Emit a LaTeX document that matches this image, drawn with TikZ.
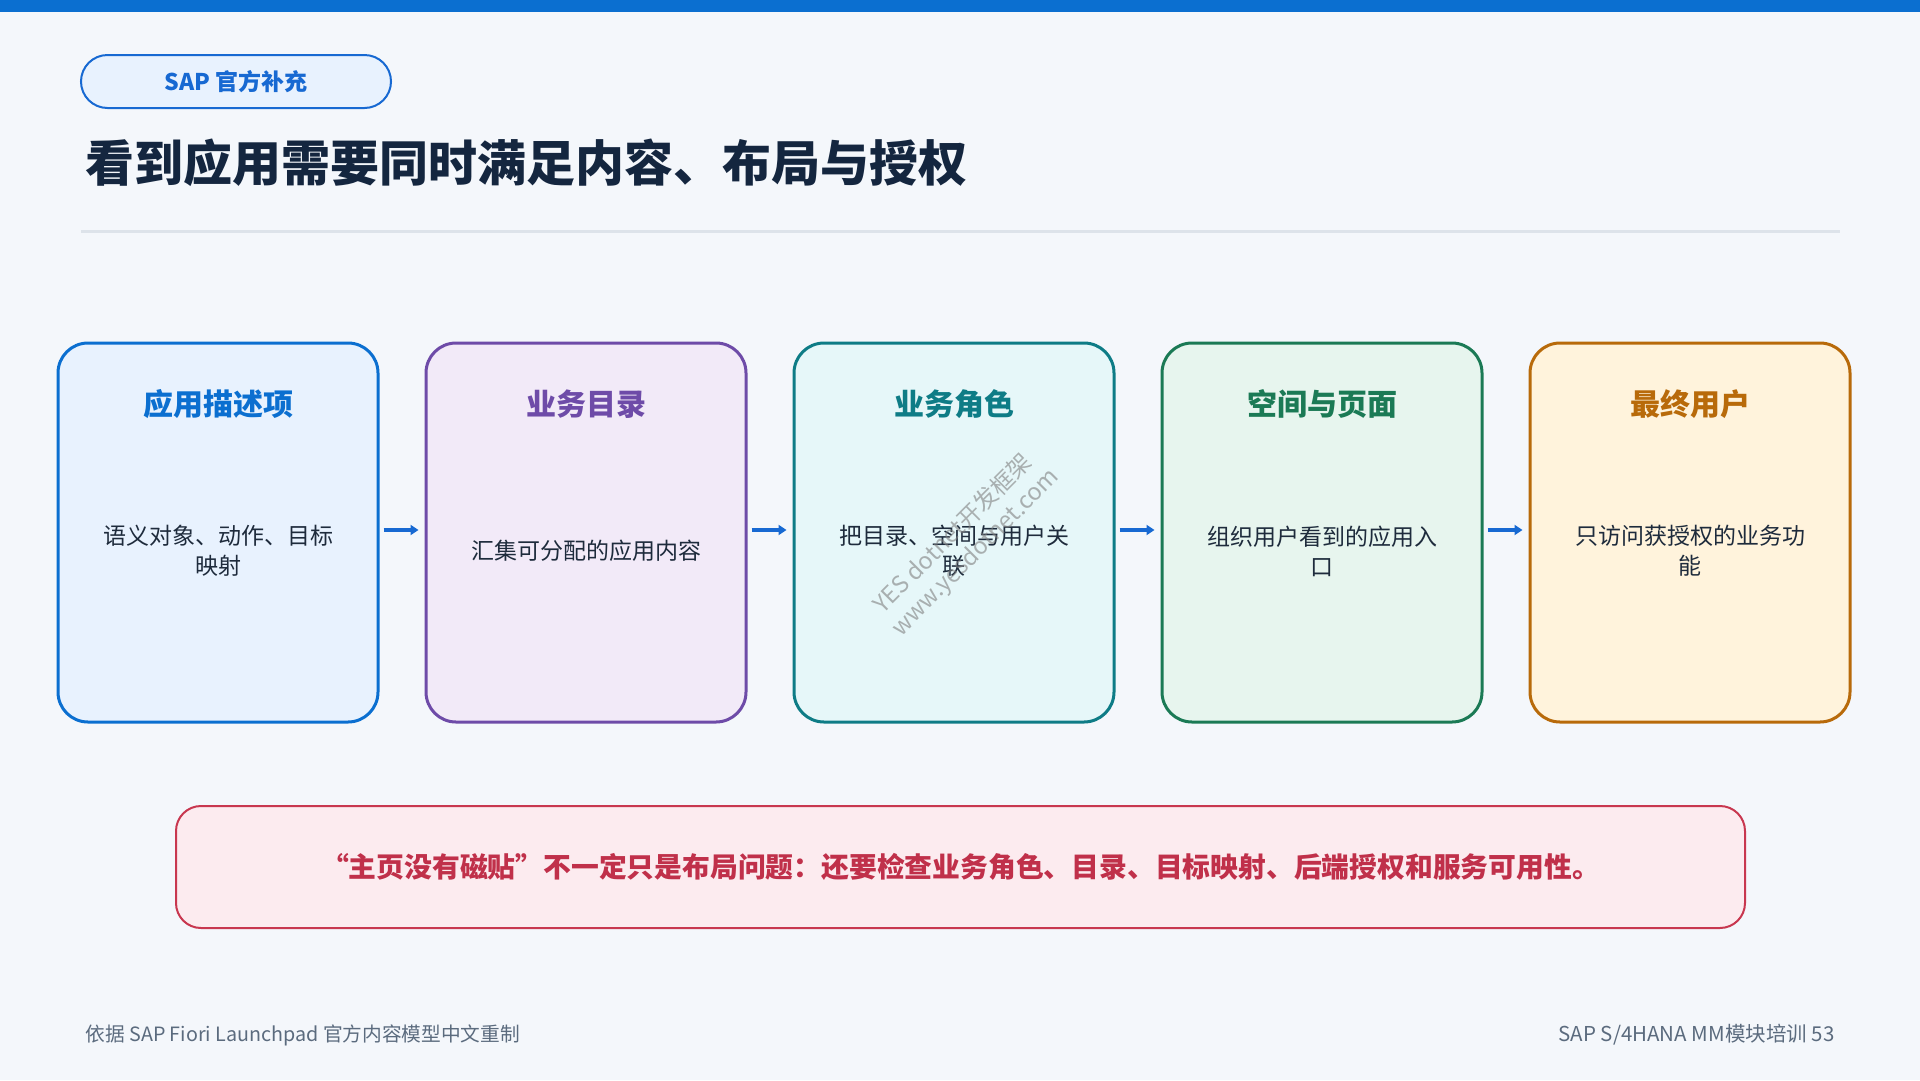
\documentclass[tikz,border=0pt]{standalone}
\usepackage{fontspec}
\setmainfont{Noto Sans CJK SC}
\usetikzlibrary{arrows.meta}
\definecolor{pagebg}{HTML}{F4F7FB}
\definecolor{topbar}{HTML}{0B6FD0}
\definecolor{ink}{HTML}{1E2B3C}
\definecolor{titleink}{HTML}{14263F}
\definecolor{rulegray}{HTML}{DDE3EA}
\definecolor{footgray}{HTML}{5B6B7E}
\definecolor{flowblue}{HTML}{1769D2}
\definecolor{descline}{HTML}{0B6FD0}
\definecolor{descfill}{HTML}{E8F2FE}
\definecolor{catline}{HTML}{6E4BA8}
\definecolor{catfill}{HTML}{F2EAF8}
\definecolor{roleline}{HTML}{0E7C86}
\definecolor{rolefill}{HTML}{E6F7F9}
\definecolor{spaceline}{HTML}{1B7A55}
\definecolor{spacefill}{HTML}{E7F5EE}
\definecolor{userline}{HTML}{B86A0A}
\definecolor{userfill}{HTML}{FFF3DC}
\definecolor{noteline}{HTML}{C8374F}
\definecolor{notefill}{HTML}{FCEBEF}
\definecolor{noteink}{HTML}{C0304A}
\tikzset{
  card/.style={draw=#1, line width=3pt, rounded corners=30pt, minimum width=320pt, minimum height=379pt, inner sep=0pt},
  cardtitle/.style={text=#1, font=\fontsize{30}{36}\selectfont\bfseries},
  cardtext/.style={text=ink, align=center, font=\fontsize{23}{30}\selectfont},
  flow/.style={draw=flowblue, line width=4pt, -{Triangle[length=8pt,width=10pt]}, shorten <=4pt, shorten >=6pt},
  mark text/.style={text=gray, opacity=0.6, rotate=45, font=\fontsize{23.5}{26}\selectfont}
}
\begin{document}
\begin{tikzpicture}[x=1pt,y=-1pt]
    \useasboundingbox (0,0) rectangle (1920,1080);
    \fill[pagebg] (0,0) rectangle (1920,1080);
    \fill[topbar] (0,0) rectangle (1920,12);
    \node[draw=flowblue, line width=2pt, fill=descfill, rounded corners=26.5pt, minimum width=310pt, minimum height=53pt, text=flowblue, font=\fontsize{23}{27}\selectfont\bfseries] (badge) at (236,81.5) {SAP 官方补充};
    \node[anchor=west, text=titleink, font=\fontsize{49}{56}\selectfont\bfseries] (title) at (82,163) {看到应用需要同时满足内容、布局与授权};
    \draw[rulegray, line width=3pt] (81,231) -- (1840,231);

    \node[card=descline, fill=descfill] (desc) at (218,532.5) {};
    \node[card=catline, fill=catfill] (cat) at (586,532.5) {};
    \node[card=roleline, fill=rolefill] (role) at (954,532.5) {};
    \node[card=spaceline, fill=spacefill] (space) at (1322,532.5) {};
    \node[card=userline, fill=userfill] (user) at (1690,532.5) {};

    \node[cardtitle=descline] (desctitle) at (218,404) {应用描述项};
    \node[cardtitle=catline] (cattitle) at (586,404) {业务目录};
    \node[cardtitle=roleline] (roletitle) at (954,404) {业务角色};
    \node[cardtitle=spaceline] (spacetitle) at (1322,404) {空间与页面};
    \node[cardtitle=userline] (usertitle) at (1690,404) {最终用户};

    \node[cardtext] (desctext) at (218,551) {语义对象、动作、目标\\映射};
    \node[cardtext] (cattext) at (586,551) {汇集可分配的应用内容};
    \node[cardtext] (roletext) at (954,551) {把目录、空间与用户关\\联};
    \node[cardtext] (spacetext) at (1322,551) {组织用户看到的应用入\\口};
    \node[cardtext] (usertext) at (1690,551) {只访问获授权的业务功\\能};

    \draw[flow] ([yshift=2.5pt]desc.east) -- ([yshift=2.5pt]cat.west);
    \draw[flow] ([yshift=2.5pt]cat.east) -- ([yshift=2.5pt]role.west);
    \draw[flow] ([yshift=2.5pt]role.east) -- ([yshift=2.5pt]space.west);
    \draw[flow] ([yshift=2.5pt]space.east) -- ([yshift=2.5pt]user.west);

    \node[mark text] (mark1) at (952,533) {YES dotnet开发框架};
    \node[mark text] (mark2) at (976,553) {www.yesdotnet.com};

    \node[draw=noteline, line width=2pt, fill=notefill, rounded corners=25pt, minimum width=1569pt, minimum height=122pt, text=noteink, font=\fontsize{27.8}{32}\selectfont\bfseries] (note) at (960.5,867) {“主页没有磁贴”不一定只是布局问题：还要检查业务角色、目录、目标映射、后端授权和服务可用性。};

    \node[anchor=west, text=footgray, font=\fontsize{19.7}{23}\selectfont] (source) at (82,1035) {依据 SAP Fiori Launchpad 官方内容模型中文重制};
    \node[anchor=east, text=footgray, font=\fontsize{20.5}{24}\selectfont] (pageno) at (1838,1035) {SAP S/4HANA MM模块培训 53};
\end{tikzpicture}
\end{document}
